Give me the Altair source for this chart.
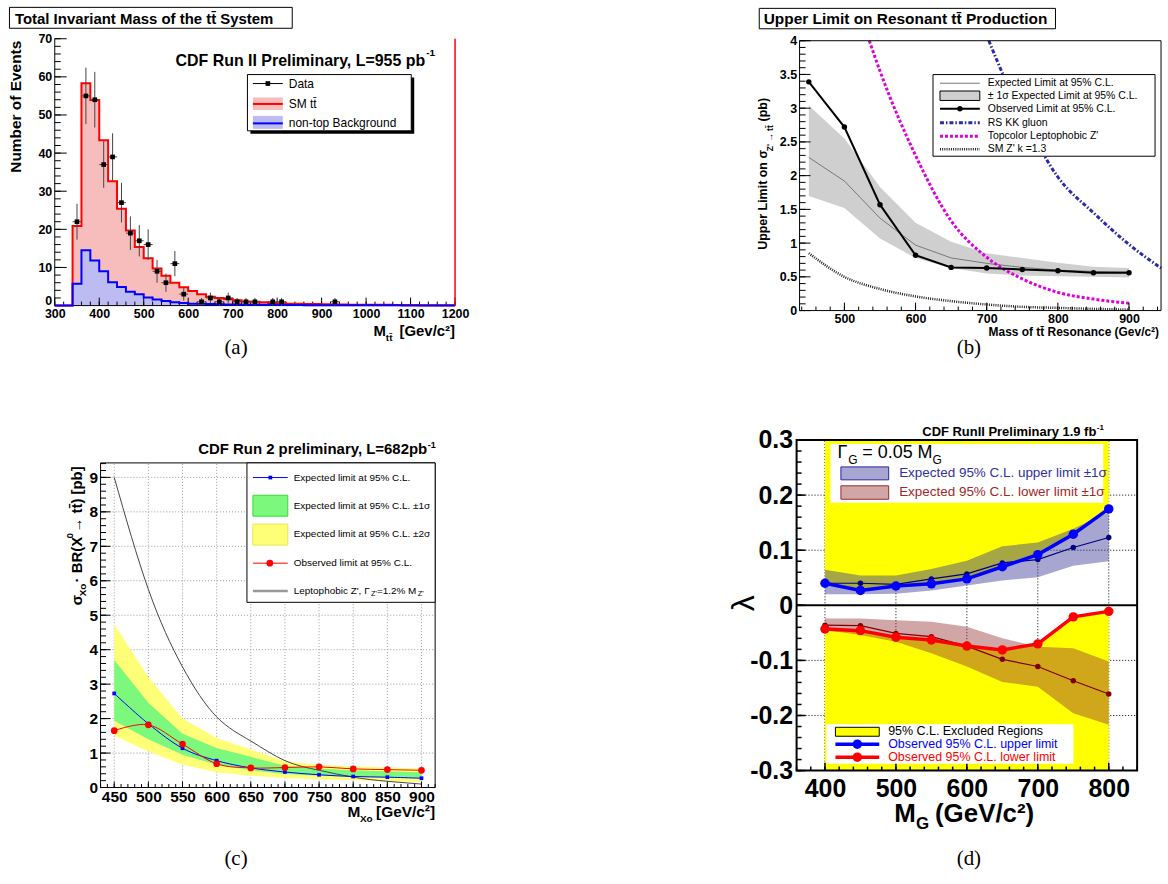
import altair as alt
import pandas as pd

QW, QH = 584, 442
SANS = "Liberation Sans"
SERIF = "Liberation Serif"
ONE = pd.DataFrame({"k": [0]})

# ---------------- panel (a): invariant mass of the ttbar system ----------------
a_bin_lo = list(range(340, 1200, 20))
a_sm_tt = [20.9, 58.3, 53.9, 43.4, 32.6, 25.4, 19.7, 15.4, 12.4, 9.7,
           7.8, 6.0, 4.8, 3.8, 3.0, 2.3, 2.0, 1.7, 1.4, 1.1,
           1.0, 0.9, 0.7, 0.6, 0.5, 0.5, 0.4, 0.4, 0.35, 0.3,
           0.3, 0.25, 0.25, 0.2, 0.2, 0.2, 0.15, 0.15, 0.15, 0.1,
           0.1, 0.1, 0.1]
a_bkg = [5.7, 14.5, 11.8, 9.0, 6.1, 4.9, 3.6, 3.0, 2.1, 1.6,
         1.2, 0.9, 0.7, 0.5, 0.45, 0.4, 0.35, 0.3, 0.3, 0.25,
         0.2, 0.2, 0.2, 0.15, 0.15, 0.15, 0.1, 0.1, 0.1, 0.1,
         0.1, 0.08, 0.08, 0.08, 0.06, 0.06, 0.06, 0.05, 0.05, 0.05,
         0.05, 0.05, 0.05]
a_data_x = [350, 370, 390, 410, 430, 450, 470, 490, 510, 530, 550, 570, 590,
            630, 650, 670, 690, 710, 730, 750, 790, 810, 930]
a_data_n = [22, 55, 54, 37, 39, 27, 19, 17, 16, 9, 6, 11, 3,
            1, 2, 1, 2, 1, 1, 1, 1, 1, 1]
a_data_err = [4.7, 7.4, 7.3, 6.1, 6.2, 5.2, 4.4, 4.1, 4.0, 3.0, 2.4, 3.3, 1.7,
              1.0, 1.4, 1.0, 1.4, 1.0, 1.0, 1.0, 1.0, 1.0, 1.0]
a_half_bin = 10

# ---------------- panel (b): upper limit on resonant production ----------------
b_mass = [450, 500, 550, 600, 650, 700, 750, 800, 850, 900]
b_band_hi = [3.04, 2.55, 1.83, 1.30, 1.02, 0.85, 0.78, 0.71, 0.65, 0.63]
b_band_lo = [1.70, 1.52, 1.07, 0.78, 0.63, 0.55, 0.52, 0.51, 0.50, 0.49]
b_expected = [2.27, 1.92, 1.37, 0.97, 0.78, 0.70, 0.64, 0.60, 0.58, 0.57]
b_observed = [3.39, 2.72, 1.57, 0.82, 0.64, 0.63, 0.61, 0.59, 0.56, 0.56]
b_topcolor_x = [535, 550, 600, 650, 700, 750, 800, 850, 900]
b_topcolor_y = [4.0, 3.55, 2.30, 1.33, 0.79, 0.47, 0.27, 0.17, 0.11]
b_kk_x = [703, 725, 750, 800, 850, 900, 945]
b_kk_y = [4.0, 3.45, 2.91, 1.98, 1.45, 0.98, 0.63]
b_smz_x = [450, 500, 550, 600, 650, 700, 750, 800, 850, 900]
b_smz_y = [0.85, 0.50, 0.32, 0.21, 0.14, 0.09, 0.055, 0.04, 0.025, 0.015]

# ---------------- panel (c): sigma x BR limits ----------------
c_mass = [450, 500, 550, 600, 650, 700, 750, 800, 850, 900]
c_2s_hi = [4.74, 3.21, 2.00, 1.44, 1.10, 0.76, 0.66, 0.61, 0.58, 0.55]
c_2s_lo = [1.50, 1.05, 0.66, 0.44, 0.34, 0.28, 0.23, 0.21, 0.18, 0.16]
c_1s_hi = [3.70, 2.46, 1.56, 1.15, 0.89, 0.63, 0.55, 0.50, 0.47, 0.44]
c_1s_lo = [1.94, 1.40, 0.95, 0.66, 0.50, 0.39, 0.34, 0.31, 0.29, 0.26]
c_expected = [2.73, 1.85, 1.14, 0.78, 0.57, 0.45, 0.37, 0.32, 0.30, 0.27]
c_observed = [1.65, 1.82, 1.26, 0.69, 0.57, 0.58, 0.60, 0.54, 0.52, 0.50]
c_lepto = [9.0, 5.75, 3.5, 2.05, 1.35, 0.78, 0.50, 0.30, 0.18, 0.10]

# ---------------- panel (d): lambda limits ----------------
d_mass = [400, 450, 500, 550, 600, 650, 700, 750, 800]
d_up_band_hi = [0.0645, 0.054, 0.054, 0.066, 0.081, 0.107, 0.114, 0.139, 0.169]
d_up_band_lo = [0.020, 0.020, 0.021, 0.027, 0.036, 0.045, 0.051, 0.072, 0.080]
d_up_expected = [0.040, 0.040, 0.038, 0.048, 0.057, 0.077, 0.083, 0.105, 0.123]
d_up_observed = [0.040, 0.027, 0.035, 0.039, 0.048, 0.070, 0.092, 0.129, 0.175]
d_lo_band_hi = [-0.024, -0.024, -0.027, -0.030, -0.039, -0.060, -0.075, -0.078, -0.102]
d_lo_band_lo = [-0.045, -0.054, -0.066, -0.087, -0.111, -0.139, -0.148, -0.196, -0.217]
d_lo_expected = [-0.036, -0.037, -0.051, -0.057, -0.074, -0.098, -0.111, -0.137, -0.161]
d_lo_observed = [-0.043, -0.046, -0.058, -0.063, -0.074, -0.081, -0.070, -0.021, -0.011]

# ---------------- helpers (coordinates in page pixels; ORG = panel origin) ----------------
ORG = [0, 0]
AX = {"x": None, "y": None}


def seq(start, step, n, nd=4):
    return [round(start + step * i, nd) for i in range(n)]


def sc_x(domain, rng):
    return alt.Scale(domain=domain, range=[r - ORG[0] for r in rng], nice=False, zero=False)


def sc_y(domain, rng):
    return alt.Scale(domain=domain, range=[r - ORG[1] for r in rng], nice=False, zero=False)


def X(f, s):
    return alt.X(f, scale=s, axis=AX["x"])


def Y(f, s):
    return alt.Y(f, scale=s, axis=AX["y"])


def axis_x(vals, ypix, size, pad, fmt="d"):
    return alt.Axis(orient="bottom", offset=(ypix - ORG[1]) - QH, values=vals, ticks=False,
                    domain=False, grid=False, labelFont=SANS, labelFontWeight="bold",
                    labelFontSize=size, labelColor="black", labelPadding=pad, labelFlush=False,
                    labelOverlap=False, labelBound=False, title=None, format=fmt)


def axis_y(vals, xpix, size, pad, expr, **extra):
    return alt.Axis(orient="left", offset=-(xpix - ORG[0]), values=vals, ticks=False,
                    domain=False, grid=False, labelFont=SANS, labelFontWeight="bold",
                    labelFontSize=size, labelColor="black", labelPadding=pad, labelFlush=False,
                    labelOverlap=False, labelBound=False, title=None, labelExpr=expr, **extra)


def ticks_x(vals, xs, ybase, length, sw=1):
    yb = ybase - ORG[1]
    return alt.Chart(pd.DataFrame({"v": vals})).mark_rule(color="black", strokeWidth=sw).encode(
        x=X("v:Q", xs), y=alt.value(yb), y2=alt.value(yb - length))


def ticks_y(vals, ys, xbase, length, sw=1):
    xb = xbase - ORG[0]
    return alt.Chart(pd.DataFrame({"v": vals})).mark_rule(color="black", strokeWidth=sw).encode(
        y=Y("v:Q", ys), x=alt.value(xb), x2=alt.value(xb + length))


def grid_x(vals, xs, y0, y1, color, dash):
    return alt.Chart(pd.DataFrame({"v": vals})).mark_rule(color=color, strokeWidth=1, strokeDash=dash).encode(
        x=X("v:Q", xs), y=alt.value(y0 - ORG[1]), y2=alt.value(y1 - ORG[1]))


def grid_y(vals, ys, x0, x1, color, dash):
    return alt.Chart(pd.DataFrame({"v": vals})).mark_rule(color=color, strokeWidth=1, strokeDash=dash).encode(
        y=Y("v:Q", ys), x=alt.value(x0 - ORG[0]), x2=alt.value(x1 - ORG[0]))


def frame(xs, ys, xdom, ydom, color="black", sw=1):
    df = pd.DataFrame({"x0": [xdom[0]], "x1": [xdom[1]], "y0": [ydom[0]], "y1": [ydom[1]]})
    return alt.Chart(df).mark_rect(fill="transparent", stroke=color, strokeWidth=sw).encode(
        x=X("x0:Q", xs), x2="x1:Q", y=Y("y0:Q", ys), y2="y1:Q")


def seg(xs, ys, x0, x1, y0, y1, color="black", sw=1):
    df = pd.DataFrame({"x0": [x0], "x1": [x1], "y0": [y0], "y1": [y1]})
    return alt.Chart(df).mark_rule(color=color, strokeWidth=sw).encode(
        x=X("x0:Q", xs), x2="x1:Q", y=Y("y0:Q", ys), y2="y1:Q")


def text(s, x, y, size, weight="normal", align="left", baseline="alphabetic", color="black",
         angle=0, font=SANS):
    kw = dict(text=s, fontSize=size, fontWeight=weight, align=align, baseline=baseline,
              color=color, font=font)
    if angle:
        kw["angle"] = angle
    return alt.Chart(ONE).mark_text(**kw).encode(x=alt.value(x - ORG[0]), y=alt.value(y - ORG[1]))


def box(x1, y1, x2, y2, fill="white", stroke="black", sw=1):
    return alt.Chart(ONE).mark_rect(fill=fill, stroke=stroke, strokeWidth=sw).encode(
        x=alt.value(x1 - ORG[0]), x2=alt.value(x2 - ORG[0]),
        y=alt.value(y1 - ORG[1]), y2=alt.value(y2 - ORG[1]))


def hline(x1, x2, y, color, sw=1, dash=None):
    kw = dict(color=color, strokeWidth=sw)
    if dash:
        kw["strokeDash"] = dash
    return alt.Chart(ONE).mark_rule(**kw).encode(
        x=alt.value(x1 - ORG[0]), x2=alt.value(x2 - ORG[0]), y=alt.value(y - ORG[1]))


def dot(x, y, shape, size, color):
    return alt.Chart(ONE).mark_point(shape=shape, size=size, filled=True, color=color,
                                     opacity=1).encode(x=alt.value(x - ORG[0]), y=alt.value(y - ORG[1]))


TT = "tt\u0304"

# =============================== panel (a) ===============================
ORG[0], ORG[1] = 0, 0
xa = sc_x([300, 1200], [54, 456])
ya = sc_y([0, 70], [304, 36])
AX["x"] = axis_x(seq(300, 100, 10), 304, 12.5, 2)
AX["y"] = axis_y(seq(0, 10, 8), 54, 12.5, 3, "datum.value + ''",
                 labelBaseline=alt.condition("datum.value == 0", alt.value("alphabetic"), alt.value("middle")),
                 labelOffset=alt.condition("datum.value == 0", alt.value(-1.5), alt.value(0)))
hist = pd.DataFrame({"x": [300] + a_bin_lo + [1200],
                     "tt": [0] + a_sm_tt + [a_sm_tt[-1]],
                     "bkg": [0] + a_bkg + [a_bkg[-1]]})
hist["base"] = 0
pts = pd.DataFrame({"x": a_data_x, "n": a_data_n, "e": a_data_err})
pts["lo"] = pts["n"] - pts["e"]
pts["hi"] = pts["n"] + pts["e"]
pts["xl"] = pts["x"] - a_half_bin
pts["xh"] = pts["x"] + a_half_bin

panel_a = alt.layer(
    alt.Chart(hist).mark_area(interpolate="step-after", color="#f7bdbd", orient="vertical").encode(
        x=X("x:Q", xa), y=Y("tt:Q", ya), y2="base:Q"),
    alt.Chart(hist).mark_area(interpolate="step-after", color="#bcbcf3", orient="vertical").encode(
        x=X("x:Q", xa), y=Y("bkg:Q", ya), y2="base:Q"),
    seg(xa, ya, 300, 300, 0, 70),
    seg(xa, ya, 300, 1200, 0, 0),
    ticks_x(seq(300, 100, 10), xa, 304, 8),
    ticks_x(seq(300, 20, 46), xa, 304, 4),
    ticks_y(seq(0, 10, 8), ya, 54, 12),
    ticks_y(seq(0, 2, 36), ya, 54, 6),
    alt.Chart(hist).mark_line(interpolate="step-after", color="#ff0000", strokeWidth=2).encode(
        x=X("x:Q", xa), y=Y("tt:Q", ya)),
    alt.Chart(hist).mark_line(interpolate="step-after", color="#0000ff", strokeWidth=2).encode(
        x=X("x:Q", xa), y=Y("bkg:Q", ya)),
    seg(xa, ya, 1200, 1200, 0, 70, color="#ff0000", sw=1.5),
    alt.Chart(pts).mark_rule(color="#444444").encode(x=X("x:Q", xa), y=Y("lo:Q", ya), y2="hi:Q"),
    alt.Chart(pts).mark_rule(color="#444444").encode(x=X("xl:Q", xa), x2="xh:Q", y=Y("n:Q", ya)),
    alt.Chart(pts).mark_point(shape="square", size=22, filled=True, color="black", opacity=1).encode(
        x=X("x:Q", xa), y=Y("n:Q", ya)),
    # annotations
    box(8.5, 4.5, 292.5, 25.5),
    text("Total Invariant Mass of the " + TT + " System", 14, 16, 15, "bold", baseline="middle"),
    text("CDF Run II Preliminary, L=955 pb", 426, 63, 16, "bold", align="right"),
    text("-1", 427, 53.5, 10, "bold"),
    box(250.5, 75, 415, 131.5, fill="black", stroke="transparent"),
    box(247.5, 72, 412, 128.5),
    hline(253, 283, 81, "black", 1),
    dot(268, 81, "square", 22, "black"),
    text("Data", 289, 81, 12, baseline="middle"),
    box(253, 95, 283, 107.5, fill="#f7bdbd", stroke="transparent"),
    hline(253, 283, 101.5, "#ff0000", 2),
    text("SM " + TT, 289, 101.5, 12, baseline="middle"),
    box(253, 113.5, 283, 126.5, fill="#bcbcf3", stroke="transparent"),
    hline(253, 283, 121, "#0000ff", 2),
    text("non-top Background", 289, 121, 12, baseline="middle"),
    text("Number of Events", 20, 38, 15.5, "bold", align="right", angle=270),
    text("M", 374, 335, 15, "bold"),
    text(TT, 386.5, 339.5, 10, "bold"),
    text("[Gev/c\u00b2]", 456, 335, 15, "bold", align="right"),
    text("(a)", 236, 347, 21, font=SERIF, align="center", baseline="middle"),
).properties(width=QW, height=QH)

# =============================== panel (b) ===============================
ORG[0], ORG[1] = QW, 0
xb = sc_x([437, 945], [802, 1165])
yb = sc_y([0, 4], [309, 38])
AX["x"] = axis_x(seq(500, 100, 5), 309, 12.5, 2)
AX["y"] = axis_y(seq(0, 0.5, 9), 802, 12.5, 3, "datum.value + ''")
bdf = pd.DataFrame({"m": b_mass, "hi": b_band_hi, "lo": b_band_lo, "exp": b_expected, "obs": b_observed})
bdf_top = pd.DataFrame({"m": b_topcolor_x, "y": b_topcolor_y})
bdf_kk = pd.DataFrame({"m": b_kk_x, "y": b_kk_y})
bdf_smz = pd.DataFrame({"m": b_smz_x, "y": b_smz_y})

panel_b = alt.layer(
    alt.Chart(bdf).mark_area(color="#cfcfcf", orient="vertical").encode(
        x=X("m:Q", xb), y=Y("hi:Q", yb), y2="lo:Q"),
    alt.Chart(bdf).mark_line(color="#777777", strokeWidth=1).encode(x=X("m:Q", xb), y=Y("exp:Q", yb)),
    alt.Chart(bdf_smz).mark_line(color="#222222", strokeWidth=2.5, strokeDash=[1, 1.2],
                                 interpolate="monotone").encode(x=X("m:Q", xb), y=Y("y:Q", yb)),
    alt.Chart(bdf_top).mark_line(color="#dd00dd", strokeWidth=3, strokeDash=[3, 2],
                                 interpolate="monotone").encode(x=X("m:Q", xb), y=Y("y:Q", yb)),
    alt.Chart(bdf_kk).mark_line(color="#2a2aaa", strokeWidth=3, strokeDash=[4, 2, 1.5, 2],
                                interpolate="monotone").encode(x=X("m:Q", xb), y=Y("y:Q", yb)),
    alt.Chart(bdf).mark_line(color="black", strokeWidth=2).encode(x=X("m:Q", xb), y=Y("obs:Q", yb)),
    alt.Chart(bdf).mark_point(shape="circle", size=30, filled=True, color="black", opacity=1).encode(
        x=X("m:Q", xb), y=Y("obs:Q", yb)),
    frame(xb, yb, [437, 945], [0, 4]),
    ticks_x(seq(500, 100, 5), xb, 309, 8),
    ticks_x(seq(440, 20, 26), xb, 309, 4),
    ticks_y(seq(0, 0.5, 9), yb, 802, 11),
    ticks_y(seq(0, 0.1, 41), yb, 802, 6),
    # annotations
    box(761.5, 5.5, 1059, 26),
    text("Upper Limit on Resonant " + TT + " Production", 766, 16.5, 15.5, "bold", baseline="middle"),
    box(936, 72, 1159, 154),
    hline(943, 983, 80.7, "#777777", 1),
    box(943, 88.5, 983, 98, fill="#cfcfcf", stroke="black"),
    hline(943, 983, 106.3, "black", 2),
    dot(963, 106.3, "circle", 30, "black"),
    hline(943, 983, 120.3, "#2a2aaa", 3, [4, 2, 1.5, 2]),
    hline(943, 983, 134, "#dd00dd", 3, [3, 2]),
    hline(943, 983, 147, "#222222", 2.5, [1, 1.2]),
    text("Expected Limit at 95% C.L.", 991, 80.7, 10.5, baseline="middle"),
    text("\u00b1 1\u03c3 Expected Limit at 95% C.L.", 991, 93.3, 10.5, baseline="middle"),
    text("Observed Limit at 95% C.L.", 991, 106.3, 10.5, baseline="middle"),
    text("RS KK gluon", 991, 120.3, 10.5, baseline="middle"),
    text("Topcolor Leptophobic Z'", 991, 134, 10.5, baseline="middle"),
    text("SM Z' k =1.3", 991, 147, 10.5, baseline="middle"),
    text("Upper Limit on \u03c3", 769, 248, 12.5, "bold", angle=270),
    text("Z' \u2192 " + TT, 775, 149, 8.5, "bold", angle=270),
    text("(pb)", 769, 119, 12.5, "bold", angle=270),
    text("Mass of " + TT + " Resonance (Gev/c\u00b2)", 1163, 335, 12, "bold", align="right"),
    text("(b)", 972, 347, 21, font=SERIF, align="center", baseline="middle"),
).properties(width=QW, height=QH)

# =============================== panel (c) ===============================
ORG[0], ORG[1] = 0, QH
xc = sc_x([430, 920], [100, 436])
yc = sc_y([0, 9.42], [788, 462])
AX["x"] = axis_x(seq(450, 50, 10), 788, 15.5, 2)
AX["y"] = axis_y(seq(0, 1, 10), 100, 15.5, 3, "datum.value + ''")
cdf = pd.DataFrame({"m": c_mass, "y2h": c_2s_hi, "y2l": c_2s_lo, "g1h": c_1s_hi, "g1l": c_1s_lo,
                    "exp": c_expected, "obs": c_observed, "lep": c_lepto})

panel_c = alt.layer(
    grid_x(seq(450, 50, 10), xc, 788, 462, "#999999", [1, 2]),
    grid_y(seq(1, 1, 9), yc, 100, 436, "#999999", [1, 2]),
    alt.Chart(cdf).mark_area(color="#ffff77", orient="vertical").encode(
        x=X("m:Q", xc), y=Y("y2h:Q", yc), y2="y2l:Q"),
    alt.Chart(cdf).mark_area(color="#7cf97c", orient="vertical").encode(
        x=X("m:Q", xc), y=Y("g1h:Q", yc), y2="g1l:Q"),
    alt.Chart(cdf).mark_line(color="#444444", strokeWidth=1, interpolate="natural").encode(
        x=X("m:Q", xc), y=Y("lep:Q", yc)),
    alt.Chart(cdf).mark_line(color="#0000ff", strokeWidth=1, interpolate="cardinal").encode(
        x=X("m:Q", xc), y=Y("exp:Q", yc)),
    alt.Chart(cdf).mark_point(shape="square", size=14, filled=True, color="#0000ff", opacity=1).encode(
        x=X("m:Q", xc), y=Y("exp:Q", yc)),
    alt.Chart(cdf).mark_line(color="#ff0000", strokeWidth=1, interpolate="cardinal").encode(
        x=X("m:Q", xc), y=Y("obs:Q", yc)),
    alt.Chart(cdf).mark_point(shape="circle", size=45, filled=True, color="#ff0000", opacity=1).encode(
        x=X("m:Q", xc), y=Y("obs:Q", yc)),
    frame(xc, yc, [430, 920], [0, 9.42]),
    ticks_x(seq(450, 50, 10), xc, 788, 6),
    ticks_x(seq(430, 10, 50), xc, 788, 3.5),
    ticks_y(seq(0, 1, 10), yc, 100, 10),
    ticks_y(seq(0, 0.2, 48), yc, 100, 5.5),
    # annotations
    text("CDF Run 2 preliminary, L=682pb", 428, 453, 15, "bold", align="right"),
    text("-1", 428.5, 447, 9, "bold"),
    box(247, 462, 436, 602),
    hline(253, 288, 476.7, "#0000ff", 1),
    dot(270.5, 476.7, "square", 14, "#0000ff"),
    box(253, 494.5, 288, 515.5, fill="#7cf97c", stroke="#33dd33"),
    box(253, 523.5, 288, 544.5, fill="#ffff77", stroke="#e8e844"),
    hline(253, 288, 562.7, "#ff0000", 1),
    dot(270, 562.7, "circle", 45, "#ff0000"),
    hline(253, 288, 590.7, "#999999", 2.5),
    text("Expected limit at 95% C.L.", 294, 476.7, 10, baseline="middle"),
    text("Expected limit at 95% C.L. \u00b11\u03c3", 294, 505, 10, baseline="middle"),
    text("Expected limit at 95% C.L. \u00b12\u03c3", 294, 533.7, 10, baseline="middle"),
    text("Observed limit at 95% C.L.", 294, 562.7, 10, baseline="middle"),
    text("Leptophobic Z', \u0393", 294, 590.7, 10, baseline="middle"),
    text("Z'", 371.5, 593.5, 7.5, baseline="middle"),
    text("=1.2% M", 377.5, 590.7, 10, baseline="middle"),
    text("Z'", 418.5, 593.5, 7.5, baseline="middle"),
    text("\u03c3", 81, 605, 15, "bold", angle=270),
    text("Xo", 85.5, 596, 10, "bold", angle=270),
    text("\u00b7 BR(X", 81, 582, 15, "bold", angle=270),
    text("0", 72, 538, 10, "bold", angle=270),
    text("\u2192 " + TT + ") [pb]", 81, 532, 15, "bold", angle=270),
    text("M", 348, 818, 15.5, "bold"),
    text("Xo", 360.5, 822.5, 10, "bold"),
    text("[GeV/c\u00b2]", 436, 818, 15.5, "bold", align="right"),
    text("(c)", 236, 860, 21, font=SERIF, align="center", baseline="middle"),
).properties(width=QW, height=QH)

# =============================== panel (d) ===============================
ORG[0], ORG[1] = QW, QH
xd = sc_x([360, 840], [799, 1141])
yd = sc_y([-0.3, 0.3], [771, 439])
lam_expr = "datum.value == 0 ? '0' : (datum.value < 0 ? '-' : '') + format(abs(datum.value), '.1f')"
AX["x"] = axis_x(seq(400, 100, 5), 771, 25, 6)
AX["y"] = axis_y(seq(-0.3, 0.1, 7), 799, 25, 4, lam_expr)
ddf = pd.DataFrame({"m": d_mass, "ubh": d_up_band_hi, "ubl": d_up_band_lo, "ue": d_up_expected,
                    "uo": d_up_observed, "lbh": d_lo_band_hi, "lbl": d_lo_band_lo,
                    "le": d_lo_expected, "lo": d_lo_observed})
ddf["top"] = 0.3
ddf["bottom"] = -0.3

panel_d = alt.layer(
    grid_x(seq(400, 100, 5), xd, 771, 439, "black", [1, 2]),
    grid_y([-0.2, -0.1, 0.1, 0.2], yd, 799, 1141, "black", [1, 2]),
    alt.Chart(ddf).mark_area(color="#ffff00", orient="vertical").encode(
        x=X("m:Q", xd), y=Y("uo:Q", yd), y2="top:Q"),
    alt.Chart(ddf).mark_area(color="#ffff00", orient="vertical").encode(
        x=X("m:Q", xd), y=Y("lo:Q", yd), y2="bottom:Q"),
    alt.Chart(ddf).mark_area(color="#3a3a96", opacity=0.45, orient="vertical").encode(
        x=X("m:Q", xd), y=Y("ubh:Q", yd), y2="ubl:Q"),
    alt.Chart(ddf).mark_area(color="#963a3a", opacity=0.45, orient="vertical").encode(
        x=X("m:Q", xd), y=Y("lbh:Q", yd), y2="lbl:Q"),
    seg(xd, yd, 360, 840, 0, 0, sw=2),
    alt.Chart(ddf).mark_line(color="#000080", strokeWidth=1.2).encode(x=X("m:Q", xd), y=Y("ue:Q", yd)),
    alt.Chart(ddf).mark_point(shape="circle", size=30, filled=True, color="#000080", opacity=1).encode(
        x=X("m:Q", xd), y=Y("ue:Q", yd)),
    alt.Chart(ddf).mark_line(color="#800000", strokeWidth=1.2).encode(x=X("m:Q", xd), y=Y("le:Q", yd)),
    alt.Chart(ddf).mark_point(shape="circle", size=30, filled=True, color="#800000", opacity=1).encode(
        x=X("m:Q", xd), y=Y("le:Q", yd)),
    alt.Chart(ddf).mark_line(color="#0000ff", strokeWidth=3.5).encode(x=X("m:Q", xd), y=Y("uo:Q", yd)),
    alt.Chart(ddf).mark_point(shape="circle", size=90, filled=True, color="#0000ff", opacity=1).encode(
        x=X("m:Q", xd), y=Y("uo:Q", yd)),
    alt.Chart(ddf).mark_line(color="#ff0000", strokeWidth=3.5).encode(x=X("m:Q", xd), y=Y("lo:Q", yd)),
    alt.Chart(ddf).mark_point(shape="circle", size=90, filled=True, color="#ff0000", opacity=1).encode(
        x=X("m:Q", xd), y=Y("lo:Q", yd)),
    frame(xd, yd, [360, 840], [-0.3, 0.3], sw=2),
    ticks_x(seq(400, 100, 5), xd, 771, 8, sw=1.5),
    ticks_x(seq(360, 20, 25), xd, 771, 4, sw=1.5),
    ticks_y(seq(-0.3, 0.1, 7), yd, 799, 9, sw=1.5),
    ticks_y(seq(-0.3, 0.02, 31), yd, 799, 5, sw=1.5),
    # annotations
    text("CDF RunII Preliminary 1.9 fb", 1100, 435, 13, "bold", align="right"),
    text("-1", 1100.5, 429, 8, "bold"),
    box(833, 443, 1107, 502, fill="white", stroke="transparent"),
    text("\u0393", 840, 457, 18),
    text("G", 851, 463.5, 12),
    text("= 0.05 M", 865, 457, 18),
    text("G", 935.5, 463.5, 12),
    box(843.5, 466, 891.5, 479, fill="#a6a6d0", stroke="#2828a0"),
    box(843.5, 485, 891.5, 498.5, fill="#d0a6a6", stroke="#a02828"),
    text("Expected 95% C.L. upper limit \u00b11\u03c3", 902, 472.5, 13.5, baseline="middle", color="#3030a0"),
    text("Expected 95% C.L. lower limit \u00b11\u03c3", 902, 491.5, 13.5, baseline="middle", color="#a02828"),
    box(829, 724.5, 1077, 764, fill="white", stroke="transparent"),
    box(838, 727.5, 882, 736.5, fill="#ffff00", stroke="black"),
    hline(838, 882, 744.5, "#0000ff", 3.5),
    dot(860, 744.5, "circle", 90, "#0000ff"),
    hline(838, 882, 757.5, "#ff0000", 3.5),
    dot(860, 757.5, "circle", 90, "#ff0000"),
    text("95% C.L. Excluded Regions", 891, 731.5, 12.5, baseline="middle"),
    text("Observed 95% C.L. upper limit", 891, 744.5, 12.5, baseline="middle", color="#0000ff"),
    text("Observed 95% C.L. lower limit", 891, 757.5, 12.5, baseline="middle", color="#ff0000"),
    text("\u03bb", 746, 603, 32, align="center", baseline="middle", angle=270),
    text("M", 897, 823, 26, "bold"),
    text("G", 919, 829.5, 17, "bold"),
    text("(GeV/c\u00b2)", 938, 823, 26, "bold"),
    text("(d)", 972, 860, 21, font=SERIF, align="center", baseline="middle"),
).properties(width=QW, height=QH)

chart = alt.concat(panel_a, panel_b, panel_c, panel_d, columns=2, spacing=0, bounds="flush").properties(
    padding=0, background="white"
).configure_view(stroke="transparent")

chart.save("out.html", embed_options={"renderer": "svg", "actions": False})
